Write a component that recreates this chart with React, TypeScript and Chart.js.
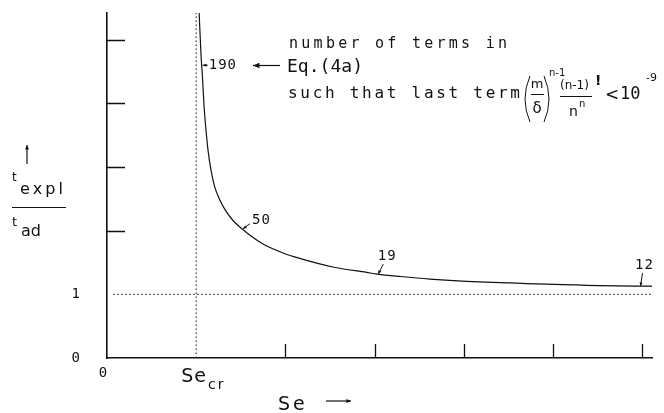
import React, { useEffect, useRef } from "react";
import { Chart, registerables } from "chart.js";

Chart.register(...registerables);

// ---------- data ----------
const curveX = [1.033, 1.054, 1.068, 1.087, 1.118, 1.132, 1.166, 1.205, 1.256, 1.323, 1.413, 1.513, 1.614, 1.749, 1.973, 2.16, 2.53, 2.91, 3.03, 3.29, 3.62, 4.18, 4.93, 5.98, 6.11];
const curveY = [5.42, 4.76, 4.47, 3.98, 3.46, 3.27, 2.95, 2.7, 2.51, 2.33, 2.16, 2.03, 1.915, 1.79, 1.65, 1.565, 1.43, 1.345, 1.318, 1.28, 1.24, 1.195, 1.16, 1.13, 1.13];

const criticalSe = 1; // Se_cr
const asymptote = 1; // t_expl / t_ad -> 1

const xMin = 0;
const xMax = 6.11;
const yMin = 0;
const yMax = 5.42;

const xTickMarks = [2, 3, 4, 5, 6];
const yTickMarks = [2, 3, 4, 5];
const xTickValues = [0, 1];
const xTickLabels = ["0", "Se"];
const xTickSubs = ["", "cr"];
const yTickValues = [0, 1];
const yTickLabels = ["0", "1"];

const termLabels = ["190", "50", "19", "12"];
const termX = [1.062, 1.513, 3.03, 5.97];
const termY = [4.6, 2.03, 1.318, 1.13];

const noteLines = ["number of terms in", "Eq.(4a)", "such that last term"];

// ---------- styles ----------
const FONT = '"DejaVu Sans", "Liberation Sans", sans-serif';
const MONO = '"DejaVu Sans Mono", "Liberation Mono", monospace';
const INK = "#111";
// label placement relative to curve point: arrow tail dx,dy ; text anchor dx,dy ; align
const termOffsets = [
  { ax: 6, ay: 0, tx: 7, ty: 0, align: "left" },
  { ax: 8, ay: -5, tx: 10, ty: -8, align: "left" },
  { ax: 6, ay: -10, tx: 10, ty: -18, align: "center" },
  { ax: 3, ay: -13, tx: 5, ty: -21, align: "center" },
];

function arrowHead(ctx: CanvasRenderingContext2D, x1: number, y1: number, x2: number, y2: number, size = 5) {
  const a = Math.atan2(y2 - y1, x2 - x1);
  ctx.beginPath();
  ctx.moveTo(x2, y2);
  ctx.lineTo(x2 - size * Math.cos(a - 0.4), y2 - size * Math.sin(a - 0.4));
  ctx.lineTo(x2 - size * Math.cos(a + 0.4), y2 - size * Math.sin(a + 0.4));
  ctx.closePath();
  ctx.fill();
}

function arrow(ctx: CanvasRenderingContext2D, x1: number, y1: number, x2: number, y2: number, size = 5) {
  ctx.beginPath();
  ctx.moveTo(x1, y1);
  ctx.lineTo(x2, y2);
  ctx.stroke();
  arrowHead(ctx, x1, y1, x2, y2, size);
}

function spread(ctx: CanvasRenderingContext2D, text: string, left: number, right: number, y: number, font: string) {
  ctx.font = font;
  (ctx as any).letterSpacing = "0px";
  const w = ctx.measureText(text).width;
  const sp = Math.max(0, (right - left - w) / Math.max(1, text.length - 1));
  (ctx as any).letterSpacing = sp + "px";
  ctx.textAlign = "left";
  ctx.fillText(text, left, y);
  (ctx as any).letterSpacing = "0px";
}

const decorPlugin = {
  id: "decor",
  afterDraw(chart: any) {
    const ctx: CanvasRenderingContext2D = chart.ctx;
    const xs = chart.scales.x;
    const ys = chart.scales.y;
    const area = chart.chartArea;
    ctx.save();
    ctx.strokeStyle = INK;
    ctx.fillStyle = INK;
    ctx.lineWidth = 1.3;

    // inward tick marks
    ctx.beginPath();
    yTickMarks.forEach((v) => {
      const py = Math.round(ys.getPixelForValue(v)) + 0.5;
      ctx.moveTo(area.left, py);
      ctx.lineTo(area.left + 18, py);
    });
    xTickMarks.forEach((v) => {
      const px = Math.round(xs.getPixelForValue(v)) + 0.5;
      ctx.moveTo(px, area.bottom);
      ctx.lineTo(px, area.bottom - 14);
    });
    ctx.stroke();

    // tick labels
    ctx.textBaseline = "middle";
    ctx.font = `14px ${MONO}`;
    ctx.textAlign = "right";
    yTickValues.forEach((v, i) => {
      ctx.fillText(yTickLabels[i], area.left - 27, ys.getPixelForValue(v));
    });
    xTickValues.forEach((v, i) => {
      const px = xs.getPixelForValue(v);
      if (xTickSubs[i]) {
        ctx.font = `19px ${FONT}`;
        ctx.textAlign = "left";
        (ctx as any).letterSpacing = "1px";
        const w = ctx.measureText(xTickLabels[i]).width;
        const left = px - 15;
        ctx.fillText(xTickLabels[i], left, area.bottom + 19);
        ctx.font = `14px ${FONT}`;
        (ctx as any).letterSpacing = "2px";
        ctx.fillText(xTickSubs[i], left + w + 1, area.bottom + 27);
        (ctx as any).letterSpacing = "0px";
      } else {
        ctx.font = `14px ${MONO}`;
        ctx.textAlign = "center";
        ctx.fillText(xTickLabels[i], px - 4, area.bottom + 15);
      }
    });

    // axis titles
    // y: arrow up + t_expl / t_ad
    ctx.lineWidth = 1.2;
    arrow(ctx, 27, 164, 27, 145, 5);
    ctx.textAlign = "left";
    ctx.font = `12px ${FONT}`;
    ctx.fillText("t", 12, 178);
    spread(ctx, "expl", 20, 63, 190, `16px ${FONT}`);
    ctx.beginPath();
    ctx.moveTo(12, 207.5);
    ctx.lineTo(66, 207.5);
    ctx.stroke();
    ctx.textBaseline = "middle";
    ctx.font = `13px ${FONT}`;
    ctx.fillText("t", 12, 223);
    ctx.font = `16px ${FONT}`;
    ctx.fillText("ad", 21, 232);
    // x: Se ->
    ctx.font = `19px ${FONT}`;
    (ctx as any).letterSpacing = "3px";
    ctx.fillText("Se", 278, 405);
    (ctx as any).letterSpacing = "0px";
    arrow(ctx, 326, 401, 351, 401, 5);

    // term-count annotations
    ctx.lineWidth = 1;
    termLabels.forEach((lab, i) => {
      const px = xs.getPixelForValue(termX[i]);
      const py = ys.getPixelForValue(termY[i]);
      const o = termOffsets[i];
      arrow(ctx, px + o.ax, py + o.ay, px + 1, py, 4);
      ctx.font = `14px ${MONO}`;
      ctx.textAlign = o.align as CanvasTextAlign;
      ctx.textBaseline = "middle";
      (ctx as any).letterSpacing = "1px";
      ctx.fillText(lab, px + o.tx, py + o.ty);
      (ctx as any).letterSpacing = "0px";
    });

    // big arrow toward "190"
    ctx.lineWidth = 1.2;
    arrow(ctx, 280, 65.5, 253, 65.5, 7);

    // note text
    ctx.textBaseline = "alphabetic";
    spread(ctx, noteLines[0], 289, 507, 48, `15px ${MONO}`);
    spread(ctx, noteLines[1], 287, 363, 72, `18px ${MONO}`);
    spread(ctx, noteLines[2], 288, 520, 98, `16px ${MONO}`);

    // formula (m/δ)^(n-1) (n-1)!/n^n < 10^-9
    ctx.lineWidth = 1;
    ctx.beginPath();
    ctx.moveTo(530, 76);
    ctx.quadraticCurveTo(520, 99, 530, 122);
    ctx.moveTo(544, 76);
    ctx.quadraticCurveTo(554, 99, 544, 122);
    ctx.moveTo(531, 94.5);
    ctx.lineTo(544, 94.5);
    ctx.moveTo(560, 96.5);
    ctx.lineTo(592, 96.5);
    ctx.stroke();
    ctx.textBaseline = "middle";
    ctx.textAlign = "center";
    ctx.font = `13px ${FONT}`;
    ctx.fillText("m", 537, 85);
    ctx.font = `15px ${FONT}`;
    ctx.fillText("δ", 537, 109);
    ctx.font = `10px ${FONT}`;
    ctx.textAlign = "left";
    ctx.fillText("n-1", 549, 73);
    ctx.font = `12px ${FONT}`;
    ctx.fillText("(n-1)", 560, 86);
    ctx.font = `bold 14px ${FONT}`;
    ctx.fillText("!", 595, 81);
    ctx.font = `14px ${FONT}`;
    ctx.fillText("n", 569, 112);
    ctx.font = `10px ${FONT}`;
    ctx.fillText("n", 579, 104);
    ctx.font = `17px ${FONT}`;
    ctx.fillText("<", 605, 96);
    ctx.font = `17px ${MONO}`;
    ctx.fillText("10", 620, 95);
    ctx.font = `11px ${FONT}`;
    ctx.fillText("-9", 646, 78);

    ctx.restore();
  },
};

export default function App() {
  const ref = useRef<HTMLCanvasElement>(null);
  useEffect(() => {
    if (!ref.current) return;
    const curve = curveX.map((x, i) => ({ x, y: curveY[i] }));
    const chart = new Chart(ref.current, {
      type: "scatter",
      data: {
        datasets: [
          {
            data: curve,
            showLine: true,
            borderColor: INK,
            borderWidth: 1.2,
            pointRadius: 0,
            cubicInterpolationMode: "monotone",
          } as any,
          {
            data: [
              { x: criticalSe, y: yMin },
              { x: criticalSe, y: yMax },
            ],
            showLine: true,
            borderColor: "#333",
            borderWidth: 1.2,
            borderDash: [1.5, 2.5],
            pointRadius: 0,
          },
          {
            data: [
              { x: 0.07, y: asymptote },
              { x: xMax, y: asymptote },
            ],
            showLine: true,
            borderColor: "#333",
            borderWidth: 1.2,
            borderDash: [1.5, 2.5],
            pointRadius: 0,
          },
        ],
      },
      options: {
        responsive: false,
        animation: false,
        devicePixelRatio: 1,
        layout: { padding: { left: 107, top: 13, right: 12, bottom: 55 } },
        plugins: { legend: { display: false }, tooltip: { enabled: false } },
        scales: {
          x: {
            type: "linear",
            min: xMin,
            max: xMax,
            grid: { display: false, drawTicks: false },
            ticks: { display: false },
            border: { display: true, color: INK, width: 1.6 },
          },
          y: {
            type: "linear",
            min: yMin,
            max: yMax,
            grid: { display: false, drawTicks: false },
            ticks: { display: false },
            border: { display: true, color: INK, width: 1.6 },
          },
        },
      },
      plugins: [decorPlugin],
    });
    return () => chart.destroy();
  }, []);
  return (
    <div style={{ position: "absolute", left: 0, top: 0, width: 664, height: 413, background: "#fff" }}>
      <canvas ref={ref} width={664} height={413} style={{ display: "block" }} />
    </div>
  );
}
